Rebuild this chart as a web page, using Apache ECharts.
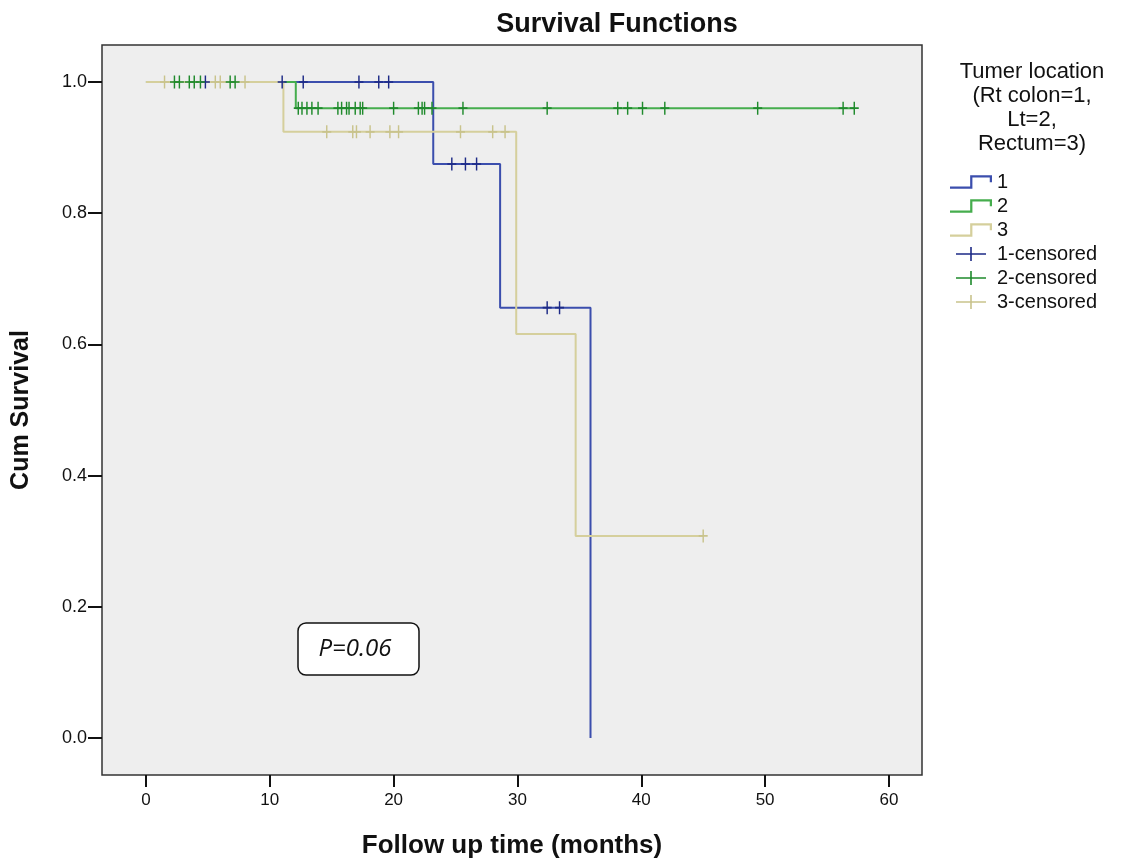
<!DOCTYPE html>
<html>
<head>
<meta charset="utf-8">
<script src="https://cdn.jsdelivr.net/npm/echarts@6/dist/echarts.min.js"></script>
<style>
  html, body { margin: 0; padding: 0; background: #fff; }
  #chart { width: 1127px; height: 859px; }
</style>
</head>
<body>
<div id="chart"></div>
<script>
// Kaplan-Meier step points (time in months, cumulative survival)
const stepTimes1 = [0, 23.2, 28.6, 35.9];
const stepVals1 = [1, 0.875, 0.656, 0];
const stepTimes2 = [0, 12.1, 57.2];
const stepVals2 = [1, 0.96, 0.96];
const stepTimes3 = [0, 11.1, 29.9, 34.7, 45.0];
const stepVals3 = [1, 0.924, 0.616, 0.308, 0.308];

// censored observations
const censTimes1 = [4.8, 11.0, 12.7, 17.2, 18.8, 19.6, 24.7, 25.8, 26.7, 32.4, 33.4];
const censVals1 = [1, 1, 1, 1, 1, 1, 0.875, 0.875, 0.875, 0.656, 0.656];
const censTimes2 = [2.3, 2.7, 3.5, 3.9, 4.4, 6.8, 7.2, 12.3, 12.6, 13.0, 13.4, 13.9, 15.5, 15.8, 16.2, 16.4, 16.9, 17.3, 17.5, 20.0, 22.0, 22.3, 22.5, 23.1, 25.6, 32.4, 38.1, 38.9, 40.1, 41.9, 49.4, 56.3, 57.2];
const censVals2 = [1, 1, 1, 1, 1, 1, 1, 0.96, 0.96, 0.96, 0.96, 0.96, 0.96, 0.96, 0.96, 0.96, 0.96, 0.96, 0.96, 0.96, 0.96, 0.96, 0.96, 0.96, 0.96, 0.96, 0.96, 0.96, 0.96, 0.96, 0.96, 0.96, 0.96];
const censTimes3 = [1.5, 5.6, 6.0, 8.0, 14.6, 16.7, 17.0, 18.1, 19.7, 20.4, 25.4, 28.0, 29.0, 45.0];
const censVals3 = [1, 1, 1, 1, 0.924, 0.924, 0.924, 0.924, 0.924, 0.924, 0.924, 0.924, 0.924, 0.308];

const xTicks = [0, 10, 20, 30, 40, 50, 60];
const yTicks = [0, 0.2, 0.4, 0.6, 0.8, 1.0];

const groupNames = ['1', '2', '3'];
const censNames = ['1-censored', '2-censored', '3-censored'];

const lineColors = ['#3b4ead', '#45ad4d', '#d5cf9c'];
const censColors = ['#1d2a86', '#1f8a2c', '#c9c38c'];

const stepIcon = 'path://M0,9H16V10.6H0ZM14.4,1H16V10.6H14.4ZM14.4,1H30V2.6H14.4ZM28.4,1H30V6H28.4Z';
const plusIcon = 'path://M0,6.2H30V7.8H0ZM14.2,0H15.8V14H14.2Z';
const censSymbol = 'path://M4.2,0H5.8V12H4.2ZM0,5.2H10V6.8H0Z';

const zip = (xs, ys) => xs.map((x, i) => [x, ys[i]]);

const stepData = [zip(stepTimes1, stepVals1), zip(stepTimes2, stepVals2), zip(stepTimes3, stepVals3)];
const censData = [zip(censTimes1, censVals1), zip(censTimes2, censVals2), zip(censTimes3, censVals3)];

var myChart = echarts.init(document.getElementById('chart'), null, { renderer: 'canvas' });

const series = [];
groupNames.forEach((name, i) => {
    series.push({
        name: name,
        type: 'line',
        step: 'end',
        data: stepData[i],
        symbol: 'none',
        z: 2 + i,
        lineStyle: { color: lineColors[i], width: 2 },
        itemStyle: { color: lineColors[i] }
    });
});
censNames.forEach((name, i) => {
    series.push({
        name: name,
        type: 'scatter',
        data: censData[i],
        symbol: censSymbol,
        symbolSize: [9, 13],
        z: 6 + i,
        itemStyle: { color: censColors[i], opacity: 1 }
    });
});

const font = 'Liberation Sans, Arial, sans-serif';

let option = {
    backgroundColor: '#ffffff',
    animation: false,
    textStyle: { fontFamily: font },
    title: {
        text: 'Survival Functions',
        left: 612,
        top: 6,
        textAlign: 'center',
        textStyle: { fontSize: 27, fontWeight: 'bold', color: '#111', fontFamily: font }
    },
    grid: {
        left: 102,
        right: 205,
        top: 45,
        bottom: 84,
        outerBoundsMode: 'none',
        containLabel: false,
        show: true,
        backgroundColor: '#eeeeee',
        borderColor: '#333333',
        borderWidth: 1.5
    },
    legend: {
        orient: 'vertical',
        left: 945,
        top: 167,
        itemWidth: 42,
        itemHeight: 14,
        itemGap: 4,
        textStyle: { fontSize: 20, color: '#111', fontFamily: font },
        data: [
            { name: '1', icon: stepIcon },
            { name: '2', icon: stepIcon },
            { name: '3', icon: stepIcon },
            { name: '1-censored', icon: plusIcon },
            { name: '2-censored', icon: plusIcon },
            { name: '3-censored', icon: plusIcon }
        ]
    },
    xAxis: {
        type: 'value',
        min: -3.55,
        max: 62.67,
        name: 'Follow up time (months)',
        nameLocation: 'middle',
        nameGap: 58,
        nameTextStyle: { fontSize: 26, fontWeight: 'bold', color: '#111', fontFamily: font },
        splitLine: { show: false },
        axisLine: { show: false, onZero: false },
        axisTick: { show: true, inside: false, length: 12, customValues: xTicks, lineStyle: { color: '#111', width: 2 } },
        axisLabel: { customValues: xTicks, fontSize: 17, color: '#111', margin: 17 }
    },
    yAxis: {
        type: 'value',
        min: -0.0564,
        max: 1.0564,
        name: 'Cum Survival',
        nameLocation: 'middle',
        nameGap: 68,
        nameTextStyle: { fontSize: 25, fontWeight: 'bold', color: '#111', fontFamily: font },
        splitLine: { show: false },
        axisLine: { show: false, onZero: false },
        axisTick: { show: true, inside: false, length: 14, customValues: yTicks, lineStyle: { color: '#111', width: 2 } },
        axisLabel: {
            customValues: yTicks,
            fontSize: 18,
            color: '#111',
            margin: 15,
            formatter: (v) => v.toFixed(1)
        }
    },
    graphic: [
        {
            type: 'text',
            style: {
                x: 1032,
                y: 60,
                text: 'Tumer location\n(Rt colon=1,\nLt=2,\nRectum=3)',
                textAlign: 'center',
                fontSize: 22,
                lineHeight: 24,
                fill: '#111',
                fontFamily: font
            }
        },
        {
            type: 'rect',
            shape: { x: 298, y: 623, width: 121, height: 52, r: 8 },
            style: { fill: '#ffffff', stroke: '#111', lineWidth: 1.5 },
            z: 20
        },
        {
            type: 'text',
            z: 21,
            style: {
                x: 355,
                y: 649,
                text: 'P=0.06',
                textAlign: 'center',
                textVerticalAlign: 'middle',
                fontSize: 24,
                fontStyle: 'italic',
                fill: '#111',
                fontFamily: 'Open Sans, Lato, sans-serif'
            }
        }
    ],
    series: series
};

option && myChart.setOption(option);
</script>
</body>
</html>
